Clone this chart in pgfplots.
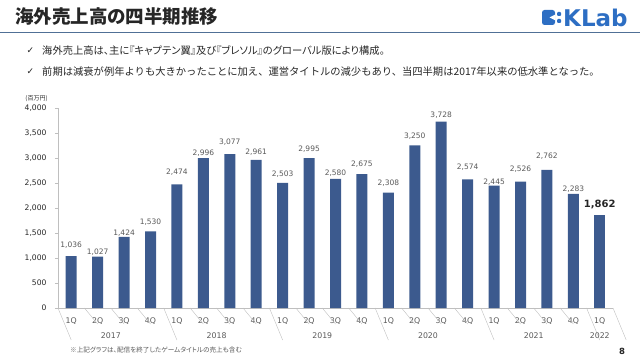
\documentclass[border=0pt]{standalone}
\usepackage{fontspec}
\usepackage{pgfplots}
\usepackage{pgfplotstable}
\pgfplotsset{compat=1.18}
\setmainfont{DejaVu Sans}
\newfontfamily\jp[RawFeature=+palt]{Noto Sans CJK JP}
\newfontfamily\jpf{Noto Sans CJK JP}
\definecolor{barc}{RGB}{60,90,142}
\definecolor{txt}{RGB}{38,38,38}
\definecolor{lbl}{RGB}{89,89,89}
\definecolor{axg}{RGB}{191,191,191}
\definecolor{hline}{RGB}{80,112,150}
\definecolor{logo}{RGB}{45,110,195}

\pgfplotstableread{
x y dy
0 1036 11
1 1027 4.5
2 1424 4
3 1530 9
4 2474 12
5 2996 5.5
6 3077 12
7 2961 8
8 2503 9
9 2995 9
10 2580 6
11 2675 10.5
12 2308 9
13 3250 9
14 3728 6
15 2574 12
16 2445 4
17 2526 13
18 2762 14
19 2283 5
}\sales
\pgfplotstableread{
x y
20 1862
}\lastq

\begin{document}
\begin{tikzpicture}[x=1pt,y=1pt]
\useasboundingbox (0,0) rectangle (640,359);
% header
\node[anchor=west, inner sep=0, text=txt, font=\jp\bfseries\fontsize{18.5}{20}\selectfont] at (15,342.5) {海外売上高の四半期推移};
\draw[hline, line width=1.2pt] (0,326.5) -- (640,326.5);
% logo
\fill[logo, rounded corners=2.5pt] (542,334) rectangle (555,349);
\fill[white] (555.5,344.5) -- (549.5,341.5) -- (555.5,338.5) -- cycle;
\fill[logo, rounded corners=1pt] (557,343) rectangle (561,347);
\fill[logo, rounded corners=1pt] (557,336) rectangle (561,340);
\node[anchor=west, inner sep=0, text=logo, font=\bfseries\fontsize{23}{25}\selectfont] at (563,341.5) {KLab};
% bullets
\node[anchor=center, inner sep=0, text=txt, font=\fontsize{9}{10}\selectfont] at (30.5,308.5) {✓};
\node[anchor=center, inner sep=0, text=txt, font=\fontsize{9}{10}\selectfont] at (30.5,287) {✓};
\node[anchor=west, inner sep=0, text=txt, font=\jp\fontsize{10.3}{12}\selectfont] at (42,308.5) {海外売上高は、主に『キャプテン翼』及び『ブレソル』のグローバル版により構成。};
\node[anchor=west, inner sep=0, text=txt, font=\jpf\fontsize{10.3}{12}\selectfont] at (42,287) {前期は減衰が例年よりも大きかったことに加え、運営タイトルの減少もあり、当四半期は2017年以来の低水準となった。};
% unit
\node[anchor=center, inner sep=0, text=txt, font=\jp\fontsize{6}{7}\selectfont] at (36.5,260) {(百万円)};
% footnote and page
\node[anchor=west, inner sep=0, text=lbl, font=\jp\fontsize{6.6}{7}\selectfont] at (70,9) {※上記グラフは、配信を終了したゲームタイトルの売上も含む};
\node[anchor=center, inner sep=0, text=txt, font=\bfseries\fontsize{8.5}{10}\selectfont] at (622,8) {8};

\begin{axis}[at={(58pt,51pt)}, anchor=south west, scale only axis,
  width=555pt, height=200pt,
  xmin=-0.5, xmax=20.5, ymin=0, ymax=4000, clip=false,
  axis x line*=bottom, axis y line*=left,
  axis line style={draw=axg, -},
  xtick={0,...,20},
  xticklabels={1Q,2Q,3Q,4Q,1Q,2Q,3Q,4Q,1Q,2Q,3Q,4Q,1Q,2Q,3Q,4Q,1Q,2Q,3Q,4Q,1Q},
  x tick style={draw=none},
  xticklabel style={anchor=center, yshift=-10pt, font=\fontsize{7.8}{9}\selectfont, text=lbl},
  ytick={0,500,...,4000},
  y tick style={draw=axg},
  tick align=outside, major tick length=3pt,
  yticklabel style={xshift=-5pt, font=\fontsize{7.6}{9}\selectfont, text=txt},
  /pgf/number format/1000 sep={,},
  /pgf/number format/assume math mode=true,
]
\addplot[ybar, bar width=11pt, bar shift=0pt, fill=barc, draw=none,
  nodes near coords,
  visualization depends on={\thisrow{dy} \as \dy},
  every node near coord/.append style={anchor=center, yshift=\dy pt, font=\fontsize{7.5}{9}\selectfont, text=lbl}]
  table[x=x,y=y] {\sales};
\addplot[ybar, bar width=11pt, bar shift=0pt, fill=barc, draw=none,
  nodes near coords,
  every node near coord/.append style={anchor=center, yshift=10.6pt, font=\bfseries\fontsize{10}{12}\selectfont, text=txt}]
  table[x=x,y=y] {\lastq};
\pgfplotsinvokeforeach{0.5,1.5,2.5,4.5,5.5,6.5,8.5,9.5,10.5,12.5,13.5,14.5,16.5,17.5,18.5}{
  \draw[axg] (axis cs:#1,0) -- ++(0,-16pt);
}
\pgfplotsinvokeforeach{-0.5,3.5,7.5,11.5,15.5,19.5,20.5}{
  \draw[axg] (axis cs:#1,0) -- ++(0,-32pt);
}
\node[font=\fontsize{7.8}{9}\selectfont, text=lbl] at ([yshift=-27.5pt]axis cs:1.5,0) {2017};
\node[font=\fontsize{7.8}{9}\selectfont, text=lbl] at ([yshift=-27.5pt]axis cs:5.5,0) {2018};
\node[font=\fontsize{7.8}{9}\selectfont, text=lbl] at ([yshift=-27.5pt]axis cs:9.5,0) {2019};
\node[font=\fontsize{7.8}{9}\selectfont, text=lbl] at ([yshift=-27.5pt]axis cs:13.5,0) {2020};
\node[font=\fontsize{7.8}{9}\selectfont, text=lbl] at ([yshift=-27.5pt]axis cs:17.5,0) {2021};
\node[font=\fontsize{7.8}{9}\selectfont, text=lbl] at ([yshift=-27.5pt]axis cs:20,0) {2022};
\end{axis}
\end{tikzpicture}
\end{document}
